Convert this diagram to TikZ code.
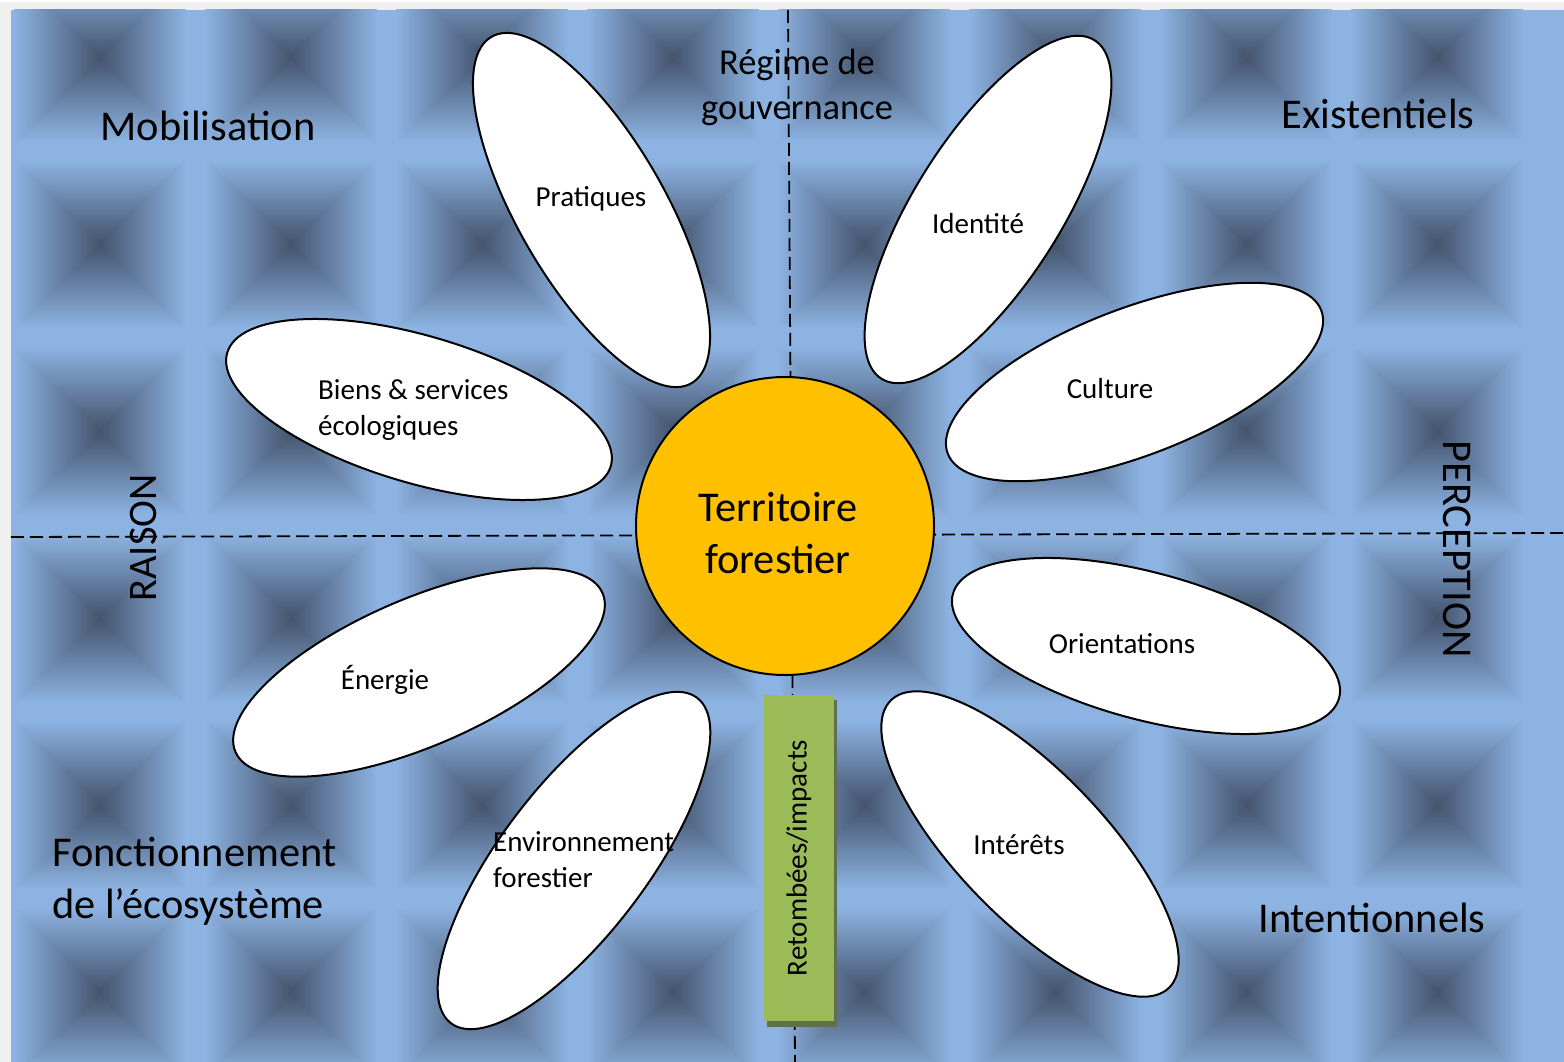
\documentclass[tikz,border=0pt]{standalone}
\usepackage{fontspec}
\setmainfont{Carlito}
\definecolor{tdark}{HTML}{43536C}
\definecolor{tmid}{HTML}{5F78A0}
\definecolor{tlight}{HTML}{8DB3E2}
\definecolor{frame}{HTML}{F0F0F0}
\definecolor{sun}{HTML}{FFC000}
\definecolor{leaf}{HTML}{9BBB59}
\definecolor{leafshadow}{HTML}{5E7050}
\tikzset{
  petalshape/.style={draw=black, line width=2pt, fill=white},
  ptext/.style={font=\fontsize{29}{36}\selectfont, inner sep=0pt, align=left},
  bigtext/.style={font=\fontsize{42.4}{51.8}\selectfont, inner sep=0pt, align=left},
  axisline/.style={draw=black, line width=1.8pt, dash pattern=on 13pt off 6pt},
}
\begin{document}
\begin{tikzpicture}[x=1pt,y=-1pt]
\useasboundingbox (0,0) rectangle (1564,1062);
% frame and background
\fill[frame] (0,0) rectangle (1564,1062);
\fill[white] (0,0) rectangle (1564,2);
\fill[tlight] (11,10) rectangle (1564,1062);
\begin{scope}
\clip (11,10) rectangle (1564,1062);
\foreach \i in {0,...,7}{
 \foreach \j in {0,...,5}{
  \begin{scope}[shift={({100+191*\i},{57+187*\j})}]
   % up and down
   \shade[top color=tlight,middle color=tmid,bottom color=tdark] (0,0) -- (-86,-84) -- (86,-84) -- cycle;
   \shade[bottom color=tlight,middle color=tmid,top color=tdark] (0,0) -- (-86,84) -- (86,84) -- cycle;
   % left and right (slightly overlapping the diagonals)
   \shade[left color=tlight,middle color=tmid,right color=tdark] (1.5,0) -- (-86,-85.5) -- (-86,85.5) -- cycle;
   \shade[right color=tlight,middle color=tmid,left color=tdark] (-1.5,0) -- (86,-85.5) -- (86,85.5) -- cycle;
  \end{scope}
 }
}
\end{scope}
% axes
\coordinate (vtop) at (788,10);
\coordinate (vbot) at (795,1062);
\coordinate (hleft) at (11,537);
\coordinate (hright) at (1564,533);
\draw[axisline] (vtop) -- (vbot);
\draw[axisline] (hleft) -- (hright);
% petals
\draw[petalshape, rotate around={-60:(591.5,210)}] (591.5,210) ellipse [x radius=200, y radius=73.5];
\draw[petalshape, rotate around={57.8:(988,209.5)}] (988,209.5) ellipse [x radius=200, y radius=73.5];
\draw[petalshape, rotate around={-16.5:(419,409.5)}] (419,409.5) ellipse [x radius=200, y radius=73.5];
\draw[petalshape, rotate around={21:(1134.5,382)}] (1134.5,382) ellipse [x radius=200, y radius=73.5];
\draw[petalshape, rotate around={-15.1:(1146,646)}] (1146,646) ellipse [x radius=200, y radius=73.5];
\draw[petalshape, rotate around={23.4:(419,672.5)}] (419,672.5) ellipse [x radius=200, y radius=73.5];
\draw[petalshape, rotate around={52.9:(574,860.5)}] (574,860.5) ellipse [x radius=204, y radius=73.5];
\draw[petalshape, rotate around={-46:(1030,844)}] (1030,844) ellipse [x radius=200, y radius=73.5];
% centre
\node[circle, draw=black, line width=2pt, fill=sun, minimum size=298pt, inner sep=0pt] (heart) at (785,526) {};
\node[bigtext, align=center] (terr) at (778,533) {Territoire\\forestier};
% stem
\fill[leafshadow] (767,700) rectangle (837,1027);
\node[fill=leaf, minimum width=326pt, minimum height=70pt, inner sep=0pt, rotate=90, font=\fontsize{29}{36}\selectfont] (stem) at (799,858) {Retombées/impacts};
% petal texts
\node[ptext] (prat) at (591,199) {Pratiques};
\node[ptext] (iden) at (978,224) {Identité};
\node[ptext, anchor=west] (bien) at (318,410) {Biens \& services\\écologiques};
\node[ptext] (cult) at (1110,389) {Culture};
\node[ptext] (orie) at (1122,644) {Orientations};
\node[ptext] (ener) at (385,680) {Énergie};
\node[ptext, anchor=west] (envi) at (493,860) {Environnement\\forestier};
\node[ptext] (inte) at (1019,845) {Intérêts};
% quadrant labels
\node[font=\fontsize{36.5}{45}\selectfont, inner sep=0pt, align=center] (regi) at (797,87) {Régime de\\gouvernance};
\node[bigtext] (mobi) at (208,126) {Mobilisation};
\node[bigtext] (exis) at (1378,114) {Existentiels};
\node[bigtext, anchor=west] (fonc) at (52,881) {Fonctionnement\\de l’écosystème};
\node[bigtext] (intn) at (1372,918) {Intentionnels};
\node[font=\fontsize{40.5}{48}\selectfont, inner sep=0pt, rotate=90] (rais) at (143,538) {RAISON};
\node[bigtext, rotate=-90] (perc) at (1457,549) {PERCEPTION};
\end{tikzpicture}
\end{document}
